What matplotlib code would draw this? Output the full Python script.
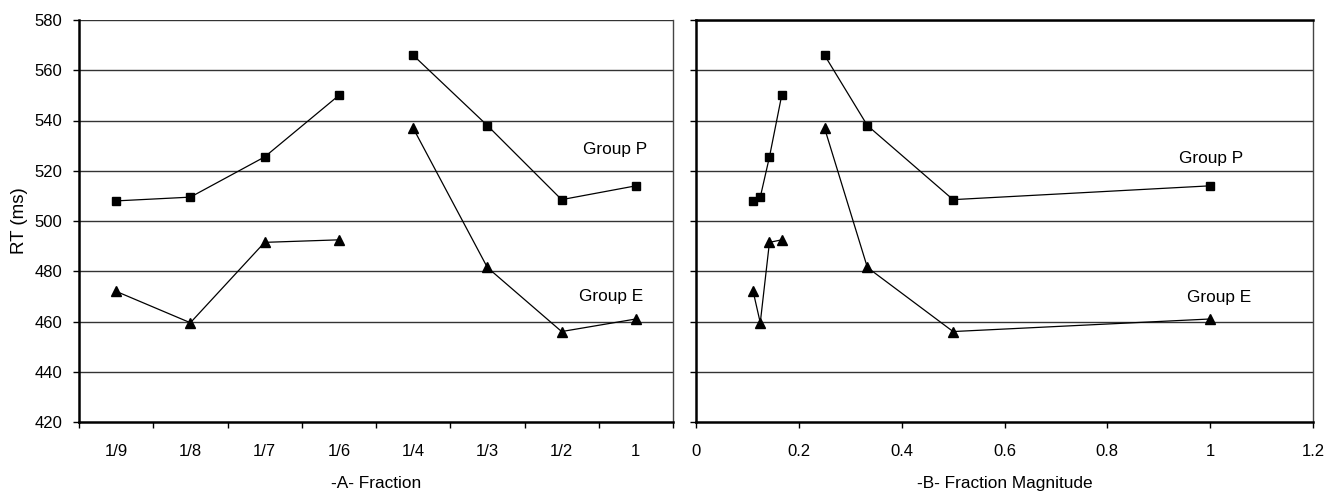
import matplotlib
matplotlib.use("Agg")
import matplotlib.pyplot as plt

plt.rcParams['font.family'] = ['Liberation Sans', 'DejaVu Sans']

fractions = ["1/9", "1/8", "1/7", "1/6", "1/4", "1/3", "1/2", "1"]
magnitudes = [1/9, 1/8, 1/7, 1/6, 1/4, 1/3, 1/2, 1.0]
group_p = [508, 509.5, 525.5, 550, 566, 538, 508.5, 514]
group_e = [472, 459.5, 491.5, 492.5, 537, 481.5, 456, 461]
yticks = [420, 440, 460, 480, 500, 520, 540, 560, 580]
xticks_b = [0, 0.2, 0.4, 0.6, 0.8, 1, 1.2]
xticklabels_b = ["0", "0.2", "0.4", "0.6", "0.8", "1", "1.2"]

W, H = 1326, 491
fig = plt.figure(figsize=(W / 100, H / 100), dpi=100)

def rect(x0, x1, ytop, ybot):
    return [x0 / W, 1 - ybot / H, (x1 - x0) / W, (ybot - ytop) / H]

axA = fig.add_axes(rect(79, 673, 20, 422))
axB = fig.add_axes(rect(696, 1313, 20, 422))

FS = 12
LFS = 12.4
grid_col = '#333333'

def style(ax):
    ax.set_ylim(420, 580)
    ax.set_yticks(yticks)
    for v in yticks[1:]:
        ax.axhline(v, color=grid_col, lw=1.0, zorder=1)
    ax.tick_params(axis='both', direction='out', length=4.5, width=1, color='black', labelsize=FS)
    ax.tick_params(axis='x', pad=11.5)
    ax.tick_params(axis='y', pad=7.5)
    for s in ['left', 'bottom']:
        ax.spines[s].set_linewidth(1.8)
        ax.spines[s].set_color('black')
    ax.spines['right'].set_linewidth(1.0)
    ax.spines['right'].set_color('#444444')

# Panel A
style(axA)
xa = list(range(len(fractions)))
axA.set_xlim(-0.5, len(fractions) - 0.5)
axA.set_xticks([i - 0.5 for i in range(len(fractions) + 1)])
axA.set_xticklabels([])
axA.set_xticks(xa, minor=True)
axA.set_xticklabels(fractions, minor=True)
axA.tick_params(axis='x', which='minor', length=0, pad=16, labelsize=FS)
axA.spines['top'].set_visible(False)
for seg in (slice(0, 4), slice(4, 8)):
    axA.plot(xa[seg], group_p[seg], color='black', lw=0.9, marker='s', ms=5.5, zorder=3)
    axA.plot(xa[seg], group_e[seg], color='black', lw=0.9, marker='^', ms=6.5, zorder=3)
axA.text(6.72, 528.3, "Group P", ha='center', va='center', fontsize=LFS)
axA.text(6.66, 470.1, "Group E", ha='center', va='center', fontsize=LFS)
axA.set_ylabel("RT (ms)", fontsize=13.5, labelpad=5)
axA.set_xlabel("-A- Fraction", fontsize=LFS, labelpad=12)

# Panel B
style(axB)
axB.spines['top'].set_linewidth(1.8)
axB.spines['top'].set_color('black')
axB.set_xlim(0, 1.2)
axB.set_xticks(xticks_b)
axB.set_xticklabels(xticklabels_b)
axB.set_yticklabels([])
for seg in (slice(0, 4), slice(4, 8)):
    axB.plot(magnitudes[seg], group_p[seg], color='black', lw=0.9, marker='s', ms=5.5, zorder=3)
    axB.plot(magnitudes[seg], group_e[seg], color='black', lw=0.9, marker='^', ms=6.5, zorder=3)
axB.text(1.002, 524.7, "Group P", ha='center', va='center', fontsize=LFS)
axB.text(1.017, 469.7, "Group E", ha='center', va='center', fontsize=LFS)
axB.set_xlabel("-B- Fraction Magnitude", fontsize=LFS, labelpad=12)

fig.savefig("out.png", dpi=100)
